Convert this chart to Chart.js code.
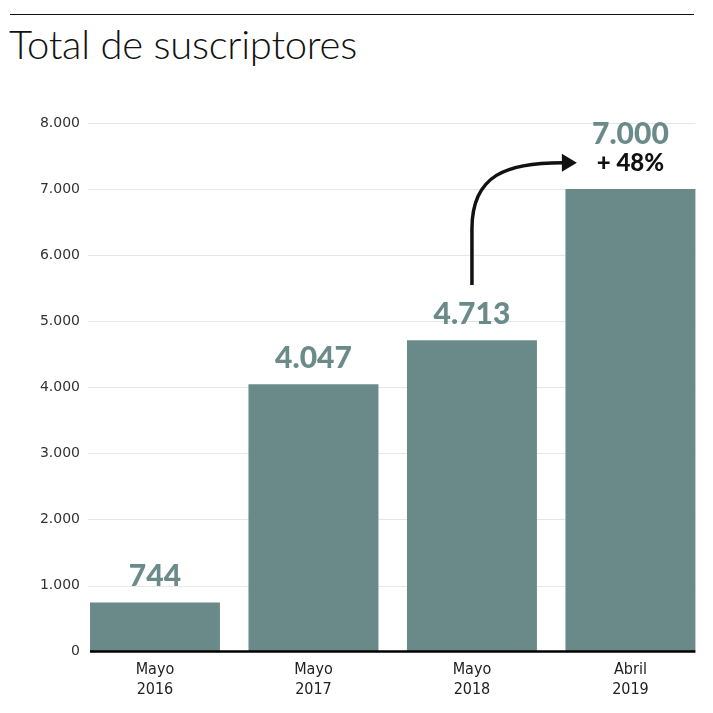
<!DOCTYPE html>
<html>
<head>
<meta charset="utf-8">
<script src="https://cdn.jsdelivr.net/npm/chart.js@4.4.0/dist/chart.umd.min.js"></script>
<style>
  body { margin: 0; background: #fff; }
  #wrap { position: relative; width: 713px; height: 713px; }
  #rule { position: absolute; left: 10px; top: 14px; width: 684px; border-top: 1.5px solid #111; }
  #title { position: absolute; left: 9px; top: 20px; font-family: Lato, sans-serif; font-weight: 300;
           font-size: 40px; color: #111; letter-spacing: -0.25px; }
  canvas { position: absolute; left: 0; top: 0; }
</style>
</head>
<body>
<div id="wrap">
  <div id="rule"></div>
  <div id="title">Total de suscriptores</div>
  <canvas id="chart" width="713" height="713"></canvas>
</div>
<script>
// chart data
const categories = [['Mayo', '2016'], ['Mayo', '2017'], ['Mayo', '2018'], ['Abril', '2019']];
const subscribers = [744, 4047, 4713, 7000];
const valueLabels = ['744', '4.047', '4.713', '7.000'];
const growthLabel = '+ 48%';
const yTicks = [0, 1000, 2000, 3000, 4000, 5000, 6000, 7000, 8000];

const barColor = '#6a8a8a';

/** Formats a number with dots as thousand separators. */
function formatThousands(value) {
    return value.toString().replace(/\B(?=(\d{3})+(?!\d))/g, '.');
}

/** Left and right pixel edges of the row of bars. */
function barSpan(chart) {
    const bars = chart.getDatasetMeta(0).data;
    const first = bars[0];
    const last = bars[bars.length - 1];
    return [first.x - first.width / 2, last.x + last.width / 2];
}

// Light gridlines that only run under the bars
const gridLines = {
    id: 'gridLines',
    beforeDatasetsDraw(chart) {
        const ctx = chart.ctx;
        const y = chart.scales.y;
        const [left, right] = barSpan(chart);
        ctx.save();
        ctx.strokeStyle = '#e6e6e6';
        ctx.lineWidth = 1;
        yTicks.forEach(v => {
            if (v === 0) return;
            const py = Math.round(y.getPixelForValue(v)) + 0.5;
            ctx.beginPath();
            ctx.moveTo(left - 2, py);
            ctx.lineTo(right, py);
            ctx.stroke();
        });
        ctx.restore();
    }
};

// Draws the baseline, the value labels above the bars and the growth arrow
const annotations = {
    id: 'annotations',
    afterDatasetsDraw(chart) {
        const ctx = chart.ctx;
        const meta = chart.getDatasetMeta(0);
        const x = chart.scales.x;
        const y = chart.scales.y;
        const [left, right] = barSpan(chart);
        ctx.save();

        // baseline
        ctx.strokeStyle = '#000';
        ctx.lineWidth = 2.5;
        ctx.beginPath();
        ctx.moveTo(left, y.getPixelForValue(0));
        ctx.lineTo(right, y.getPixelForValue(0));
        ctx.stroke();

        ctx.textAlign = 'center';
        ctx.textBaseline = 'alphabetic';
        meta.data.forEach((bar, i) => {
            ctx.fillStyle = '#6b8b8b';
            ctx.font = '900 30px Lato';
            const last = i === meta.data.length - 1;
            const offset = last ? 45 : 16;
            ctx.fillText(valueLabels[i], bar.x, bar.y - offset);
        });
        // growth label under the last value
        const lastBar = meta.data[meta.data.length - 1];
        ctx.fillStyle = '#111';
        ctx.font = '900 24px Lato';
        ctx.fillText(growthLabel, lastBar.x, lastBar.y - 18);

        // arrow from bar 3 to bar 4
        const x0 = x.getPixelForValue(2);
        const tip = x.getPixelForValue(2.662);
        const x1 = tip - 15;
        const y0 = y.getPixelForValue(5550);
        const yMid = y.getPixelForValue(6400);
        const yCtrl = y.getPixelForValue(7220);
        const y1 = y.getPixelForValue(7400);
        ctx.strokeStyle = '#111';
        ctx.fillStyle = '#111';
        ctx.lineWidth = 3.5;
        ctx.beginPath();
        ctx.moveTo(x0, y0);
        ctx.lineTo(x0, yMid);
        ctx.bezierCurveTo(x0, yCtrl, x0 + 35, y1, x1 + 1, y1);
        ctx.stroke();
        ctx.beginPath();
        ctx.moveTo(x1, y1 - 9);
        ctx.lineTo(tip, y1);
        ctx.lineTo(x1, y1 + 9);
        ctx.closePath();
        ctx.fill();
        ctx.restore();
    }
};

const chartCanvas = document.getElementById('chart').getContext('2d');
const subscribersChart = new Chart(chartCanvas, {
    type: 'bar',
    data: {
        datasets: [{
            data: subscribers.map((v, i) => ({ x: i, y: v })),
            backgroundColor: barColor,
            categoryPercentage: 1,
            barPercentage: 0.82
        }]
    },
    options: {
        responsive: false,
        animation: false,
        layout: {
            padding: { top: 123, right: 3, bottom: 13, left: 0 }
        },
        scales: {
            x: {
                type: 'linear',
                offset: false,
                min: -0.473,
                max: 3.502,
                afterBuildTicks(scale) {
                    scale.ticks = categories.map((c, i) => ({ value: i }));
                },
                grid: { display: false, offset: false },
                border: { display: false },
                ticks: {
                    color: '#222',
                    font: { family: 'DejaVu Sans Condensed', size: 16 },
                    padding: 1,
                    maxRotation: 0,
                    autoSkip: false,
                    callback: (value) => categories[value]
                }
            },
            y: {
                min: 0,
                max: 8000,
                afterBuildTicks(scale) {
                    scale.ticks = yTicks.map(v => ({ value: v }));
                },
                afterFit(scale) {
                    scale.width = 80;
                },
                grid: { display: false, drawTicks: false },
                border: { display: false },
                ticks: {
                    color: '#333',
                    font: { family: 'DejaVu Sans', size: 14 },
                    padding: 0,
                    callback: (value) => formatThousands(value)
                }
            }
        },
        plugins: {
            legend: { display: false },
            tooltip: { enabled: false }
        }
    },
    plugins: [gridLines, annotations]
});
</script>
</body>
</html>
